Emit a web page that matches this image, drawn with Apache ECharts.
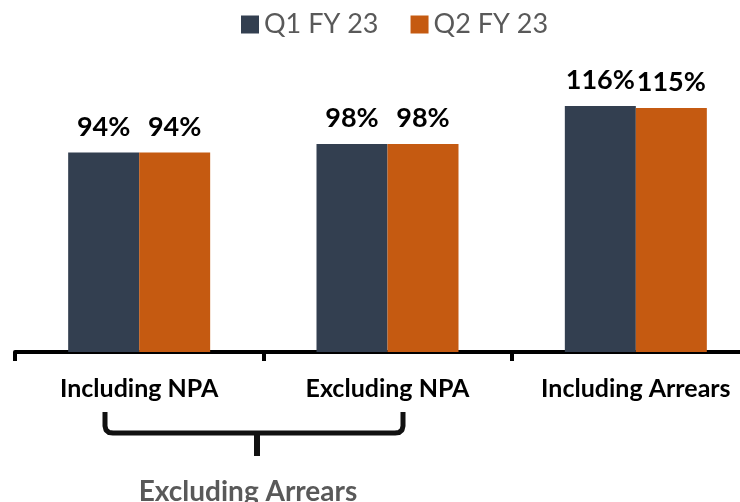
<!DOCTYPE html>
<html><head><meta charset="utf-8">
<script src="https://cdn.jsdelivr.net/npm/echarts@6/dist/echarts.min.js"></script>
<style>html,body{margin:0;padding:0;background:#fff}#c{width:740px;height:502px}</style>
</head><body><div id="c"></div>
<script>
var categories = ['Including NPA', 'Excluding NPA', 'Including Arrears'];
var seriesNames = ['Q1 FY 23', 'Q2 FY 23'];
var q1 = [94, 98, 116];
var q2 = [94, 98, 115];
var groupLabel = 'Excluding Arrears';

var FONT = 'Lato, "Open Sans", sans-serif';
var chart = echarts.init(document.getElementById('c'));
function lbl() {
  return { show: true, position: 'top', distance: 12, formatter: '{c}%',
    fontFamily: FONT, fontWeight: 'bold', fontSize: 27, color: '#000' };
}
chart.setOption({
  animation: false,
  legend: {
    top: 6, left: 236, icon: 'rect', itemWidth: 18, itemHeight: 18, itemGap: 32,
    textStyle: { fontFamily: FONT, fontSize: 27, color: '#595959' },
    data: seriesNames
  },
  grid: { left: 15, top: 55, width: 745, height: 297, containLabel: false, outerBoundsMode: 'none' },
  xAxis: {
    type: 'category', data: categories,
    axisLine: { lineStyle: { color: '#000', width: 4 } },
    axisTick: { show: true, length: 9, lineStyle: { color: '#000', width: 4 } },
    axisLabel: { margin: 24, fontFamily: FONT, fontWeight: 'bold', fontSize: 25, color: '#000', hideOverlap: false, interval: 0 }
  },
  yAxis: { type: 'value', min: 0, max: 140, show: false, splitLine: { show: false } },
  series: [
    { name: seriesNames[0], type: 'bar', data: q1, barWidth: 71, barGap: '0%',
      itemStyle: { color: '#333F50' }, label: lbl() },
    { name: seriesNames[1], type: 'bar', data: q2, barWidth: 71, barGap: '0%',
      itemStyle: { color: '#C55A11' }, label: lbl() }
  ],
  graphic: [
    { type: 'polyline', shape: { points: [[105,412],[105,426],[106,430],[109,432.5],[113,433],[395,433],[399,432.5],[402,430],[403,426],[403,412]] },
      style: { stroke: '#111', lineWidth: 5, fill: null, lineJoin: 'round' } },
    { type: 'line', shape: { x1: 257, y1: 433, x2: 257, y2: 456 },
      style: { stroke: '#111', lineWidth: 6 } },
    { type: 'text', x: 248, y: 492,
      style: { text: groupLabel, fontFamily: FONT, fontWeight: 'bold', fontSize: 28, fill: '#595959',
        textAlign: 'center', textVerticalAlign: 'middle' } }
  ]
});
</script></body></html>
